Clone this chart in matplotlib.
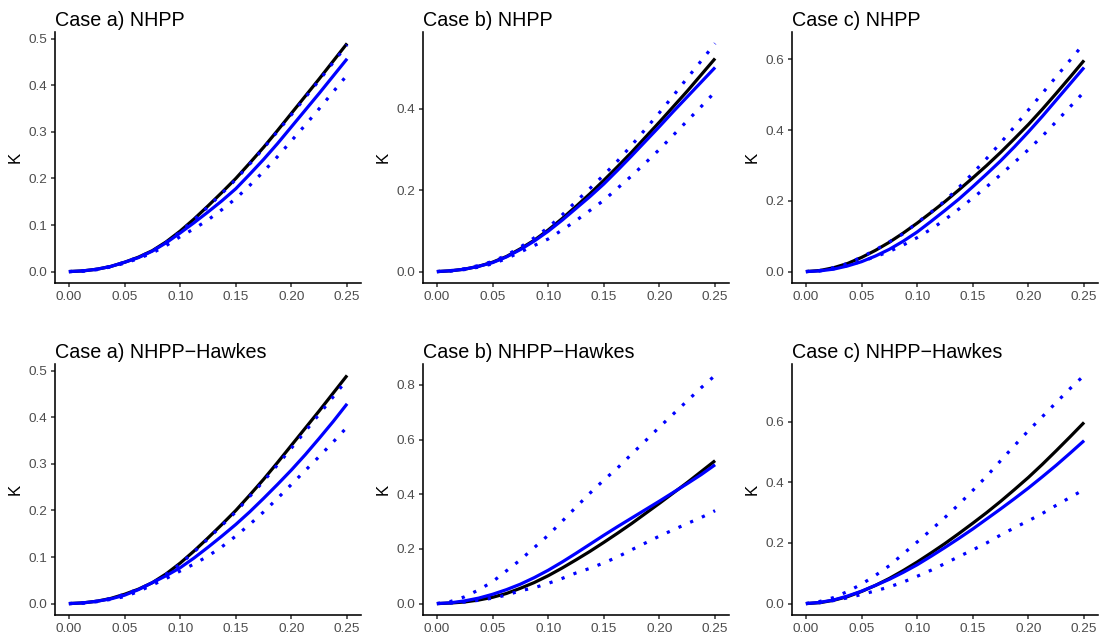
import matplotlib
matplotlib.use("Agg")
import matplotlib.pyplot as plt
from matplotlib.ticker import MultipleLocator, FormatStrFormatter

plt.rcParams['font.family'] = ['Liberation Sans', 'DejaVu Sans']

# distance grid (x axis)
r = [0.0, 0.0125, 0.025, 0.0375, 0.05, 0.0625, 0.075, 0.0875, 0.1, 0.1125, 0.125,
     0.1375, 0.15, 0.1625, 0.175, 0.1875, 0.2, 0.2125, 0.225, 0.2375, 0.25]

# true K for each case
k_true_a = [0, .0015, .005, .011, .020, .031, .045, .064, .087, .113, .141,
            .170, .200, .233, .267, .303, .340, .377, .414, .452, .490]
k_true_b = [0, .002, .006, .013, .023, .037, .056, .077, .102, .130, .160,
            .191, .224, .258, .293, .330, .367, .405, .443, .483, .523]
k_true_c = [0, .003, .011, .023, .040, .060, .083, .109, .137, .167, .198,
            .231, .265, .300, .337, .376, .416, .459, .504, .550, .597]

# NHPP estimates with envelopes
nhpp_a_est = [0, .0015, .005, .011, .020, .030, .044, .062, .083, .105, .128,
              .152, .178, .209, .241, .275, .311, .347, .383, .420, .457]
nhpp_a_lo = [0, .001, .004, .010, .018, .028, .040, .056, .075, .092, .111,
             .133, .157, .185, .215, .247, .281, .315, .350, .386, .422]
nhpp_a_hi = [0, .0015, .005, .011, .020, .031, .044, .063, .085, .111, .139,
             .168, .198, .231, .265, .301, .337, .374, .411, .449, .487]

nhpp_b_est = [0, .002, .006, .013, .022, .036, .054, .075, .099, .126, .155,
              .184, .215, .249, .284, .320, .356, .393, .429, .465, .501]
nhpp_b_lo = [0, .0015, .005, .011, .019, .032, .048, .064, .080, .102, .125,
             .150, .175, .205, .235, .267, .300, .335, .370, .405, .441]
nhpp_b_hi = [0, .0025, .007, .015, .025, .040, .060, .083, .108, .139, .172,
             .204, .237, .272, .310, .350, .390, .432, .475, .517, .560]

nhpp_c_est = [0, .002, .007, .016, .028, .044, .063, .086, .112, .142, .173,
              .205, .240, .276, .313, .353, .395, .439, .485, .531, .577]
nhpp_c_lo = [0, .002, .008, .017, .029, .042, .057, .075, .096, .120, .147,
             .177, .208, .240, .274, .309, .345, .383, .424, .466, .508]
nhpp_c_hi = [0, .003, .011, .023, .041, .061, .084, .107, .138, .168, .200,
             .238, .278, .320, .364, .410, .457, .504, .551, .598, .645]

# NHPP-Hawkes estimates with envelopes
hawkes_a_est = [0, .0015, .005, .010, .018, .030, .045, .060, .077, .098, .121,
                .145, .170, .197, .226, .256, .287, .320, .355, .391, .429]
hawkes_a_lo = [0, .001, .004, .009, .015, .026, .040, .054, .070, .085, .102,
               .122, .145, .170, .197, .226, .256, .286, .316, .347, .379]
hawkes_a_hi = [0, .0015, .005, .011, .020, .031, .044, .063, .085, .111, .139,
               .168, .197, .230, .263, .298, .334, .370, .407, .444, .481]

hawkes_b_est = [0, .003, .010, .020, .034, .051, .071, .095, .122, .152, .184,
                .217, .250, .282, .313, .344, .375, .407, .439, .472, .508]
hawkes_b_lo = [0, .002, .006, .012, .020, .031, .047, .058, .074, .092, .112,
               .129, .149, .171, .197, .222, .247, .270, .293, .315, .340]
hawkes_b_hi = [0, .008, .025, .050, .080, .120, .160, .205, .250, .301, .353,
               .404, .452, .497, .547, .596, .646, .694, .742, .790, .835]

hawkes_c_est = [0, .004, .012, .025, .041, .060, .080, .103, .128, .156, .185,
                .215, .246, .279, .312, .346, .381, .418, .456, .496, .537]
hawkes_c_lo = [0, .003, .010, .019, .030, .042, .055, .071, .090, .110, .132,
               .155, .177, .200, .226, .250, .273, .297, .324, .350, .376]
hawkes_c_hi = [0, .007, .020, .040, .064, .093, .125, .164, .203, .243, .284,
               .327, .373, .420, .471, .521, .570, .616, .663, .709, .752]

titles = [
    "Case a) NHPP", "Case b) NHPP", "Case c) NHPP",
    "Case a) NHPP\u2212Hawkes", "Case b) NHPP\u2212Hawkes", "Case c) NHPP\u2212Hawkes",
]
panels = [
    (k_true_a, nhpp_a_est, nhpp_a_lo, nhpp_a_hi, 0.1),
    (k_true_b, nhpp_b_est, nhpp_b_lo, nhpp_b_hi, 0.2),
    (k_true_c, nhpp_c_est, nhpp_c_lo, nhpp_c_hi, 0.2),
    (k_true_a, hawkes_a_est, hawkes_a_lo, hawkes_a_hi, 0.1),
    (k_true_b, hawkes_b_est, hawkes_b_lo, hawkes_b_hi, 0.2),
    (k_true_c, hawkes_c_est, hawkes_c_lo, hawkes_c_hi, 0.2),
]

W, H = 1109, 644
fig = plt.figure(figsize=(W / 100, H / 100), dpi=100)
fig.patch.set_facecolor("white")

col_left = [55, 423, 792]
row_top = [32, 364]
ax_w, ax_h = 306, 251

for i, (title, (truth, est, lo, hi, ystep)) in enumerate(zip(titles, panels)):
    row, col = divmod(i, 3)
    left = col_left[col] / W
    bottom = 1 - (row_top[row] + ax_h) / H
    ax = fig.add_axes([left, bottom, ax_w / W, ax_h / H])

    ax.plot(r, truth, color="black", lw=2.3, solid_capstyle="butt")
    ax.plot(r, est, color="#0000FF", lw=2.3, solid_capstyle="butt")
    for env in (lo, hi):
        ax.plot(r, env, color="#0000FF", lw=2.3, linestyle=(0, (1, 3)),
                dash_capstyle="butt")

    ax.set_xlim(-0.0125, 0.2625)
    ymax = max(max(truth), max(est), max(lo), max(hi))
    ax.set_ylim(-0.05 * ymax, 1.05 * ymax)
    ax.xaxis.set_major_locator(MultipleLocator(0.05))
    ax.xaxis.set_major_formatter(FormatStrFormatter("%.2f"))
    ax.yaxis.set_major_locator(MultipleLocator(ystep))
    ax.yaxis.set_major_formatter(FormatStrFormatter("%.1f"))

    for side in ("top", "right"):
        ax.spines[side].set_visible(False)
    for side in ("left", "bottom"):
        ax.spines[side].set_linewidth(1.15)
        ax.spines[side].set_color("black")
    ax.tick_params(length=3, width=1.1, color="#333333", labelcolor="#4D4D4D",
                   labelsize=9.7, pad=2.4)

    ax.set_ylabel("K", fontsize=12.1, color="black")
    ax.yaxis.set_label_coords(-0.105, 0.5)
    ax.set_title(title, loc="left", fontsize=14.2, pad=4, color="black")

fig.savefig("out.png", dpi=100, facecolor="white")
